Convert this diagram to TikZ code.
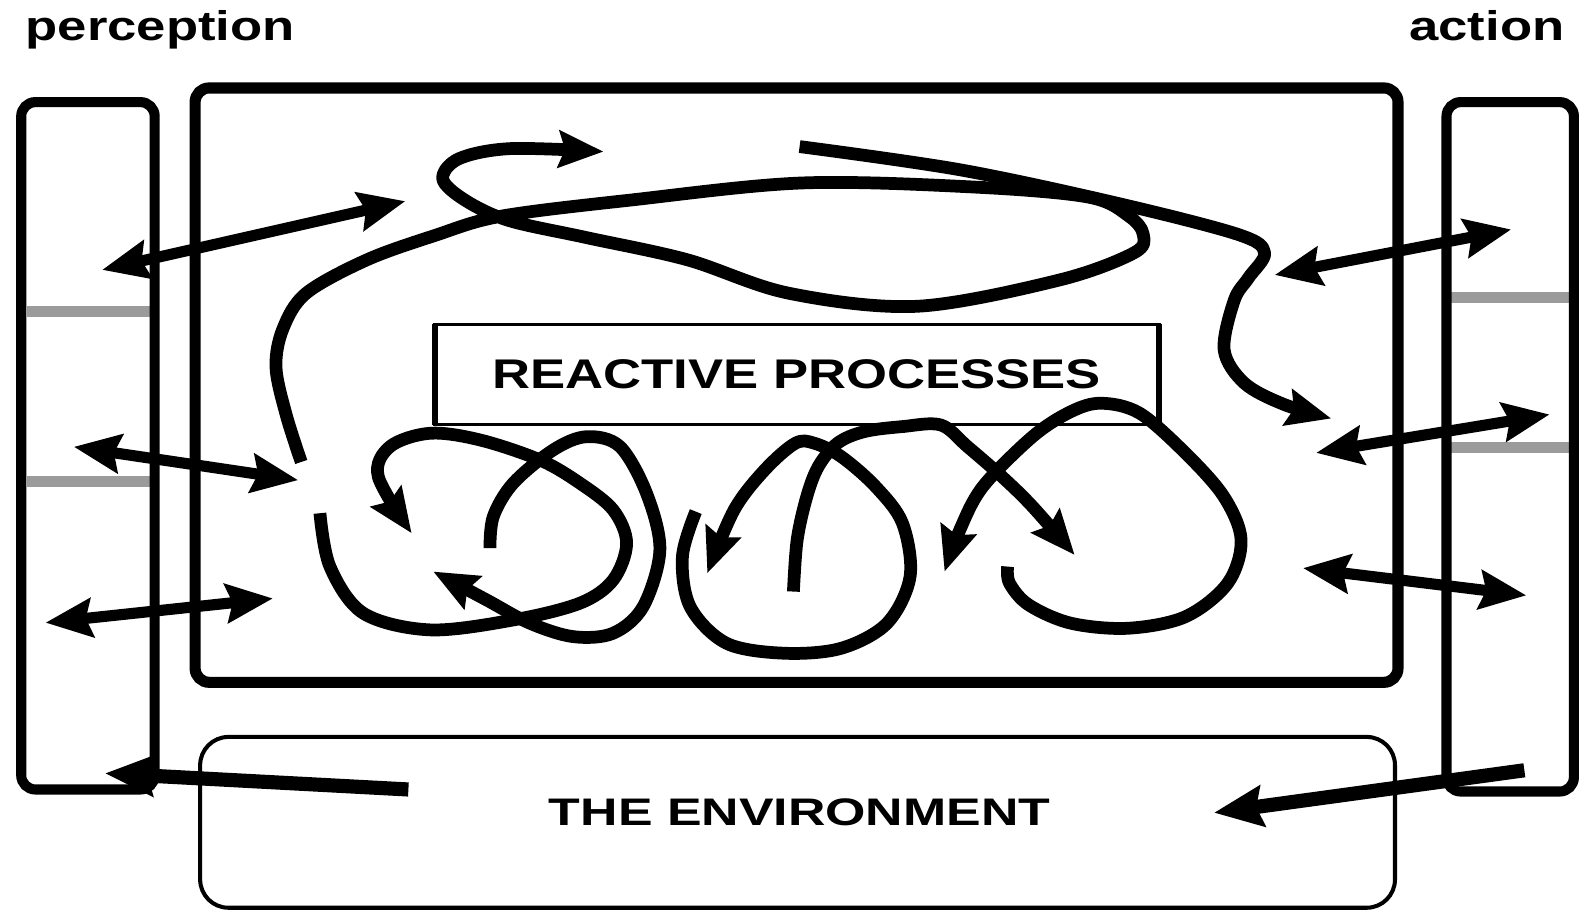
\documentclass[tikz,border=0pt]{standalone}
\usepackage{fontspec}
\setmainfont{Liberation Sans}
\usetikzlibrary{arrows.meta}
\definecolor{bargray}{RGB}{155,155,155}
\begin{document}
\begin{tikzpicture}[x=0.5pt,y=-0.5pt,
  frame/.style={line width=5.5pt, rounded corners=7pt},
  sideframe/.style={line width=5pt, rounded corners=7pt},
  thinbox/.style={line width=1.7pt},
  sidethick/.style={line width=3pt},
  bar/.style={bargray, line width=5.5pt},
  curve/.style={line width=6.3pt, line join=round},
  headend/.style={-{Stealth[length=22pt,width=18pt,inset=3pt]}},
  dbl/.style={line width=5.5pt, {Stealth[length=23pt,width=19pt,inset=3pt]}-{Stealth[length=23pt,width=19pt,inset=3pt]}},
  single/.style={line width=7pt, -{Stealth[length=24pt,width=20pt,inset=3pt]}},
  lbl/.style={font=\bfseries\fontsize{20.5pt}{24pt}\selectfont, inner sep=0pt},
  envlbl/.style={font=\bfseries\fontsize{19pt}{22pt}\selectfont, inner sep=0pt},
]
\useasboundingbox (0,0) rectangle (1568,902);
\fill[white] (0,0) rectangle (1568,902);

% titles
\node[lbl, anchor=base west] (perc) at (25,40) {\scalebox{1.27}[1]{perception}};
\node[lbl, anchor=base east] (act) at (1548,40) {\scalebox{1.27}[1]{action}};

% gray bars
\draw[bar] (27,308) -- (150,308);
\draw[bar] (27,476) -- (150,476);
\draw[bar] (1435,294) -- (1556,294);
\draw[bar] (1435,443) -- (1556,443);

% side boxes
\draw[sideframe] (21,101) rectangle (153,781);
\draw[sideframe] (1431,101) rectangle (1557,783);

% main box
\draw[frame] (193,87) rectangle (1383,675);

% reactive processes box
\draw[thinbox] (430,321) rectangle (1147,420);
\draw[sidethick] (430,321) -- (430,420) (1147,321) -- (1147,420);
\node[lbl, anchor=base] (react) at (788,384) {\scalebox{1.27}[1]{REACTIVE PROCESSES}};

% environment box
\draw[line width=2pt, rounded corners=14pt] (198,729) rectangle (1380,898);
\node[envlbl, anchor=base] (env) at (791,817) {\scalebox{1.35}[1]{THE ENVIRONMENT}};

% double arrows
\draw[dbl] (101,267) -- (401,199);
\draw[dbl] (73,442) -- (295,475);
\draw[dbl] (45,616) -- (270,592);
\draw[dbl] (1261,272) -- (1495,227);
\draw[dbl] (1302,448) -- (1533,410);
\draw[dbl] (1289,562) -- (1510,589);
\draw[single] (404,781) -- (104,765);
\draw[single] (1508,762) -- (1201,804);

% big loop with hook (P1)
\draw[curve, headend] plot[smooth, tension=0.55] coordinates {
 (298,457) (283,410) (273,363) (280,325) (303,290) (363,257) (430,233) (495,214)
 (623,198) (793,181) (963,185) (1077,195) (1117,214) (1131,232) (1122,250)
 (1048,277) (907,303) (780,290) (680,257) (580,235) (503,218) (460,198)
 (438,177) (454,157) (505,147) (597,150)};

% top-right path (P2)
\draw[curve, headend] plot[smooth, tension=0.55] coordinates {
 (791,145) (950,168) (1105,201) (1225,232) (1251,250) (1235,275) (1221,297)
 (1211,346) (1231,379) (1270,400) (1317,414)};

% lower left loops
\draw[curve, headend] plot[smooth, tension=0.55] coordinates {
 (316.5,507.7) (326.4,560.5) (359.4,606.6) (425.3,623.1) (507.7,613.3)
 (573.7,596.7) (606.6,573.7) (619.9,537.4) (606.6,504.5) (573.7,478)
 (534.1,455) (474.8,435.2) (425.3,428.6) (385.8,441.8) (374.2,471.5) (407.2,527.5)};
\draw[curve, headend] plot[smooth, tension=0.55] coordinates {
 (484.7,542.3) (488,511) (507.7,478) (547.3,445.1) (580.3,432) (613.3,441.8)
 (639.6,488) (652.8,544) (636.3,600) (606.6,626.4) (567.1,629.8) (524.2,616.5)
 (481.4,593.5) (428.6,565.4)};

% middle loops
\draw[curve, headend] plot[smooth, tension=0.55] coordinates {
 (688.3,506.1) (675.1,550.6) (682.7,600.1) (718.6,636.3) (775.5,646.2)
 (832.2,641.3) (877.6,616.5) (900.3,570.4) (892.8,517.6) (866.2,481.4)
 (832.2,451.7) (805.7,438.5) (786.8,438.5) (756.5,464.9) (726.2,504.5) (699.7,567.1)};
\draw[curve, headend] plot[smooth, tension=0.55] coordinates {
 (784.9,585.2) (788.6,534.1) (798.1,491.3) (809.5,461.6) (828.4,438.5)
 (854.9,427) (892.8,422) (930.7,420.4) (957.1,441.8) (991.2,471.5)
 (1021.5,501.2) (1063.1,549)};
\draw[curve, headend] plot[smooth, tension=0.55] coordinates {
 (996.8,560.5) (998.7,577) (1017.7,598.4) (1059.4,616.5) (1116.1,621.5)
 (1172.9,610) (1214.5,577) (1227.8,534.1) (1210.7,491.3) (1172.9,448.4)
 (1127.5,408.8) (1089.6,398.9) (1059.4,407.2) (1021.5,431.9) (972.3,481.4)
 (949.5,524.2) (934.4,565.5)};
\end{tikzpicture}
\end{document}
